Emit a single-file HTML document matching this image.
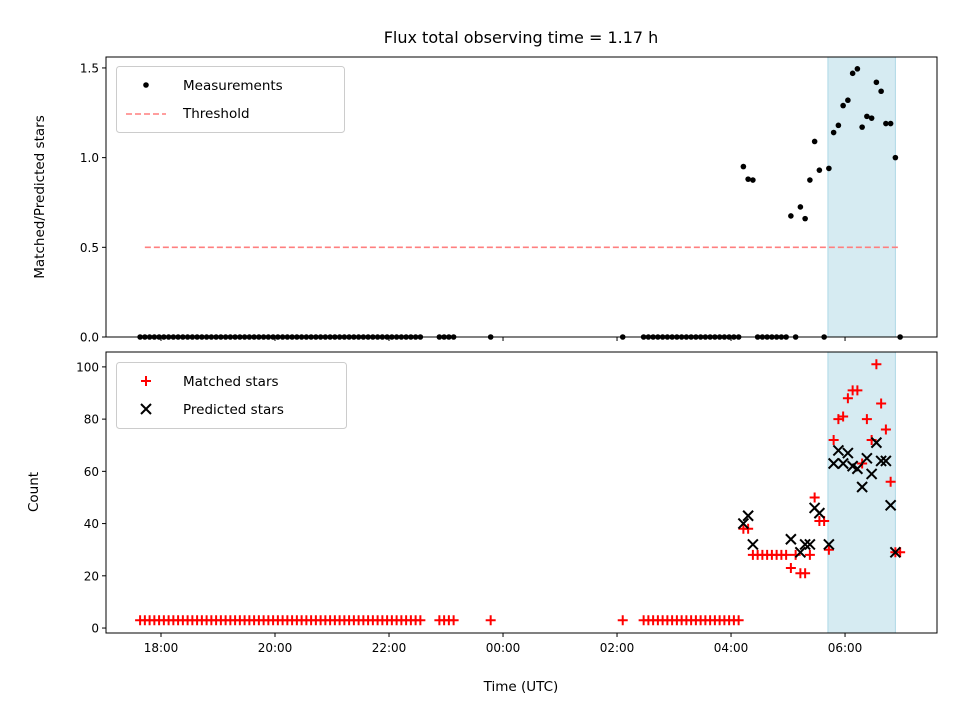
<!DOCTYPE html>
<html><head><meta charset="utf-8">
<style>
html,body{margin:0;padding:0;background:#fff;}
svg{display:block;font-family:"DejaVu Sans","Liberation Sans",sans-serif;}
</style></head>
<body>
<svg id="chart" width="960" height="720" viewBox="0 0 960 720" xmlns="http://www.w3.org/2000/svg">
<text x="521" y="43" font-size="16" text-anchor="middle" fill="#000">Flux total observing time = 1.17 h</text>
<g id="topPanel"></g>
<g id="botPanel"></g>
<text transform="translate(44,197) rotate(-90)" font-size="13.5" text-anchor="middle">Matched/Predicted stars</text>
<text transform="translate(38,492) rotate(-90)" font-size="13.5" text-anchor="middle">Count</text>
<text x="521" y="691" font-size="13.5" text-anchor="middle">Time (UTC)</text>
</svg>
<script>
// minutes after 18:00 UTC
const lowTimes=[-22,-17,-12,-7,-2,3,8,13,18,23,28,33,38,43,48,53,58,63,68,73,78,83,88,93,98,103,108,113,118,123,128,133,138,143,148,153,158,163,168,173,178,183,188,193,198,203,208,213,218,223,228,233,238,243,248,253,258,263,268,273,293,298,303,308,347,486,508,513,518,523,528,533,538,543,548,553,558,563,568,573,578,583,588,593,598,603,608];
const lowMatched=[3,3,3,3,3,3,3,3,3,3,3,3,3,3,3,3,3,3,3,3,3,3,3,3,3,3,3,3,3,3,3,3,3,3,3,3,3,3,3,3,3,3,3,3,3,3,3,3,3,3,3,3,3,3,3,3,3,3,3,3,3,3,3,3,3,3,3,3,3,3,3,3,3,3,3,3,3,3,3,3,3,3,3,3,3,3,3];
const activeTimes=[613,618,623,628,633,638,643,648,653,658,663,668,673,678,683,688,693,698,703,708,713,718,723,728,733,738,743,748,753,758,763,768,773,778];
const activeMatched=[38,38,28,28,28,28,28,28,28,28,23,28,21,21,28,50,41,41,30,72,80,81,88,91,91,63,80,72,101,86,76,56,29,29];
const activePredicted=[40,43,32,null,null,null,null,null,null,null,34,null,29,32,32,46,44,null,32,63,68,63,67,62,61,54,65,59,71,64,64,47,29,null];
const activeRatio=[0.95,0.88,0.875,0,0,0,0,0,0,0,0.675,0,0.725,0.66,0.875,1.09,0.93,0,0.94,1.14,1.18,1.29,1.32,1.47,1.495,1.17,1.23,1.22,1.42,1.37,1.19,1.19,1.0,0];
const thresholdValue=0.5, thresholdStart=-17, thresholdEnd=778;
const spanStart=702, spanEnd=773;
const xTickVals=[0,120,240,360,480,600,720];
const xTickLabels=["18:00","20:00","22:00","00:00","02:00","04:00","06:00"];
const yTopTicks=[0,0.5,1.0,1.5], yTopLabels=["0.0","0.5","1.0","1.5"];
const yBotTicks=[0,20,40,60,80,100], yBotLabels=["0","20","40","60","80","100"];

const NS="http://www.w3.org/2000/svg";
const L=106,R=937;
const xMin=-57.9,xMax=816.8;
const X=t=>L+(t-xMin)/(xMax-xMin)*(R-L);
const tT=57,tB=337,yTmin=0,yTmax=1.561;
const YT=v=>tB-(v-yTmin)/(yTmax-yTmin)*(tB-tT);
const bT=352,bB=633,yBmin=-1.9,yBmax=105.7;
const YB=v=>bB-(v-yBmin)/(yBmax-yBmin)*(bB-bT);
function mk(tag,attrs,parent){const e=document.createElementNS(NS,tag);for(const k in attrs)e.setAttribute(k,attrs[k]);parent.appendChild(e);return e;}
const topG=document.getElementById('topPanel'), botG=document.getElementById('botPanel');

function panel(g,yT,yB,Y,ticks,labels,showX){
  let s=mk('rect',{x:X(spanStart),y:yT,width:X(spanEnd)-X(spanStart),height:yB-yT,fill:'#add8e6','fill-opacity':0.5,stroke:'#add8e6','stroke-width':1},g);
  
  
  ticks.forEach((v,i)=>{
    const y=Y(v);
    const t=mk('line',{x1:L-4,x2:L,y1:y,y2:y,stroke:'#000','stroke-width':1},g);
    
    
    const tx=mk('text',{x:L-7,y:y+4.5,'font-size':12,'text-anchor':'end'},g);
    tx.textContent=labels[i];
    
    
  });
  xTickVals.forEach((v,i)=>{
    const x=X(v);
    const t=mk('line',{x1:x,x2:x,y1:yB,y2:yB+4,stroke:'#000','stroke-width':1},g);
    
    
    if(showX){
      const tx=mk('text',{x:x,y:yB+19,'font-size':12,'text-anchor':'middle'},g);
      tx.textContent=xTickLabels[i];
      
      
    }
  });
}
panel(topG,tT,tB,YT,yTopTicks,yTopLabels,false);
panel(botG,bT,bB,YB,yBotTicks,yBotLabels,true);

const th=mk('line',{x1:X(thresholdStart),x2:X(thresholdEnd),y1:YT(thresholdValue),y2:YT(thresholdValue),stroke:'#ff7f7f','stroke-width':1.6,'stroke-dasharray':'6,3'},topG);


lowTimes.forEach(t=>{
  const c=mk('circle',{cx:X(t),cy:YT(0),r:2.8,fill:'#000'},topG);
  
  
});
activeTimes.forEach((t,i)=>{
  const c=mk('circle',{cx:X(t),cy:YT(activeRatio[i]),r:2.8,fill:'#000'},topG);
  
  
});
function plus(x,y){
  const p=mk('path',{d:`M${x-5},${y}H${x+5}M${x},${y-5}V${y+5}`,stroke:'#f00','stroke-width':2,fill:'none'},botG);
  
  
}
function cross(x,y){
  const p=mk('path',{d:`M${x-5},${y-5}L${x+5},${y+5}M${x-5},${y+5}L${x+5},${y-5}`,stroke:'#000','stroke-width':2,fill:'none'},botG);
  
  
}
lowTimes.forEach((t,i)=>plus(X(t),YB(lowMatched[i])));
activeTimes.forEach((t,i)=>plus(X(t),YB(activeMatched[i])));
activeTimes.forEach((t,i)=>{if(activePredicted[i]!==null)cross(X(t),YB(activePredicted[i]));});

[[topG,tT,tB],[botG,bT,bB]].forEach(([g,a,b])=>{
  const f=mk('rect',{x:L,y:a,width:R-L,height:b-a,fill:'none',stroke:'#000','stroke-width':1},g);
  
  
});

function legend(g,y0,w,items){
  const lg=mk('g',{},g);
  
  
  mk('rect',{x:116.5,y:y0+0.5,width:w,height:66,rx:3,fill:'#fff','fill-opacity':0.8,stroke:'#ccc','stroke-width':1},lg);
  items.forEach((it,i)=>{
    const y=y0+19+i*28;
    const e=mk('g',{},lg);
    
    
    it.draw(e,146,y);
    const tx=mk('text',{x:183,y:y+5,'font-size':13.5},e);
    tx.textContent=it.label;
  });
}
legend(topG,66,228,[
  {label:'Measurements',draw:(e,x,y)=>mk('circle',{cx:x,cy:y,r:2.8,fill:'#000'},e)},
  {label:'Threshold',draw:(e,x,y)=>mk('line',{x1:x-20,x2:x+20,y1:y+1,y2:y+1,stroke:'#ff7f7f','stroke-width':1.6,'stroke-dasharray':'6,3'},e)}
]);
legend(botG,362,230,[
  {label:'Matched stars',draw:(e,x,y)=>mk('path',{d:`M${x-5},${y}H${x+5}M${x},${y-5}V${y+5}`,stroke:'#f00','stroke-width':2},e)},
  {label:'Predicted stars',draw:(e,x,y)=>mk('path',{d:`M${x-5},${y-5}L${x+5},${y+5}M${x-5},${y+5}L${x+5},${y-5}`,stroke:'#000','stroke-width':2},e)}
]);
</script>
</body></html>
